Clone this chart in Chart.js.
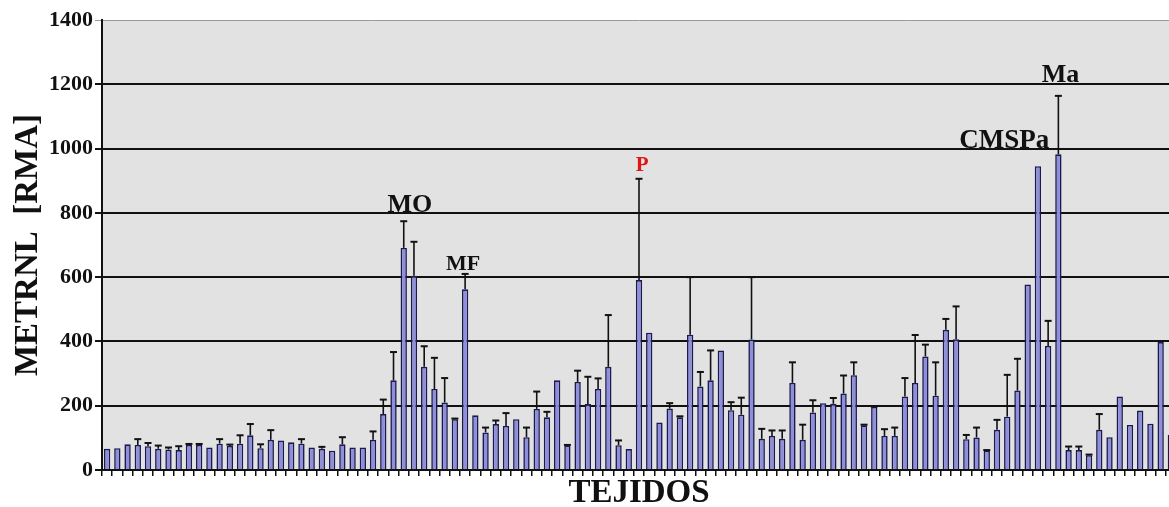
<!DOCTYPE html>
<html>
<head>
<meta charset="utf-8">
<title>METRNL</title>
<script src="https://cdn.jsdelivr.net/npm/chart.js@4.4.1/dist/chart.umd.min.js"></script>
<style>
  html, body { margin: 0; padding: 0; background: #fff; overflow: hidden; }
  #wrap { width: 1180px; height: 507px; }
</style>
</head>
<body>
<div id="wrap"><canvas id="bar-chart" width="1180" height="507"></canvas></div>
<script>
// Mean expression per tissue
let valores = [
  66, 68, 80, 78, 74, 66, 64, 62, 78, 78, 70, 82, 75, 82, 108, 68, 94, 92, 86, 82,
  70, 66, 60, 80, 70, 70, 94, 174, 279, 691, 604, 321, 252, 210, 158, 562, 170, 117, 143, 137,
  158, 102, 190, 164, 279, 76, 274, 205, 252, 321, 77, 65, 591, 427, 148, 191, 164, 421, 260, 279,
  372, 186, 172, 406, 97, 106, 97, 271, 94, 179, 208, 206, 238, 295, 139, 196, 106, 106, 229, 271,
  353, 231, 436, 407, 96, 101, 60, 125, 166, 247, 577, 945, 386, 982, 62, 62, 46, 125, 102, 229,
  140, 185, 144, 398, 110
];
// Upper error (SD) per tissue, 0 where none is drawn
let errores = [
  0, 0, 0, 18, 10, 10, 6, 12, 3, 3, 0, 14, 4, 26, 35, 12, 30, 0, 0, 14,
  0, 6, 0, 22, 0, 0, 26, 45, 88, 83, 106, 64, 97, 76, 2, 48, 0, 15, 11, 40,
  0, 30, 54, 17, 0, 2, 35, 85, 33, 161, 15, 0, 315, 0, 0, 17, 3, 179, 45, 93,
  0, 25, 53, 194, 31, 17, 26, 64, 47, 38, 0, 18, 56, 40, 2, 2, 21, 26, 57, 149,
  37, 104, 34, 102, 13, 31, 2, 31, 130, 99, 0, 0, 78, 182, 11, 11, 2, 49, 0, 0,
  0, 0, 0, 0, 0
];
let tejidos = valores.map((v, i) => 'T' + (i + 1));

let yTicks = [0, 200, 400, 600, 800, 1000, 1200, 1400];

// Tissue names written above some bars: category position and value of the baseline
let etiquetas = ['MO', 'MF', 'P', 'CMSPa', 'Ma'];
let etiquetaPos = [29.6, 34.8, 52.3, 87.7, 93.2];
let etiquetaY = [803, 622, 930, 1002, 1207];
let etiquetaSize = [26, 22, 21, 27, 26];
let etiquetaColor = ['#111', '#111', '#e01515', '#111', '#111'];

const serif = "'Liberation Serif', 'Times New Roman', serif";

const plotBackground = {
  id: 'plotBackground',
  beforeDraw(chart) {
    const { ctx, chartArea } = chart;
    ctx.save();
    ctx.fillStyle = '#e2e2e2';
    ctx.fillRect(chartArea.left, chartArea.top, chartArea.right - chartArea.left, chartArea.bottom - chartArea.top);
    ctx.restore();
  }
};

const errorBars = {
  id: 'errorBars',
  afterDatasetsDraw(chart) {
    const ctx = chart.ctx;
    const yScale = chart.scales.y;
    const bars = chart.getDatasetMeta(0).data;
    ctx.save();
    ctx.strokeStyle = '#111';
    bars.forEach((bar, i) => {
      if (!errores[i]) return;
      let top = yScale.getPixelForValue(valores[i] + errores[i]);
      ctx.lineWidth = 1.6;
      ctx.beginPath();
      ctx.moveTo(bar.x, bar.y);
      ctx.lineTo(bar.x, top);
      ctx.stroke();
      ctx.lineWidth = 2;
      ctx.beginPath();
      ctx.moveTo(bar.x - 3.5, top);
      ctx.lineTo(bar.x + 3.5, top);
      ctx.stroke();
    });
    ctx.restore();
  }
};

const tissueLabels = {
  id: 'tissueLabels',
  afterDraw(chart) {
    const ctx = chart.ctx;
    const xScale = chart.scales.x;
    const yScale = chart.scales.y;
    ctx.save();
    ctx.textAlign = 'center';
    ctx.textBaseline = 'alphabetic';
    for (let i = 0; i < etiquetas.length; i++) {
      let base = Math.floor(etiquetaPos[i]);
      let x0 = xScale.getPixelForValue(base);
      let x1 = xScale.getPixelForValue(base + 1);
      let x = x0 + (x1 - x0) * (etiquetaPos[i] - base);
      ctx.font = 'bold ' + etiquetaSize[i] + 'px ' + serif;
      ctx.fillStyle = etiquetaColor[i];
      ctx.fillText(etiquetas[i], x, yScale.getPixelForValue(etiquetaY[i]));
    }
    ctx.restore();
  }
};

const ctx = document.getElementById('bar-chart').getContext('2d');
let barChart = new Chart(ctx, {
  type: 'bar',
  data: {
    labels: tejidos,
    datasets: [{
      data: valores,
      backgroundColor: '#8e8edc',
      borderColor: '#1a1a4c',
      borderWidth: 1.6,
      barPercentage: 0.62,
      categoryPercentage: 1
    }]
  },
  options: {
    responsive: false,
    animation: false,
    layout: { padding: { top: 20, right: 4, left: 0, bottom: 0 } },
    plugins: {
      legend: { display: false },
      tooltip: { enabled: false }
    },
    scales: {
      x: {
        afterFit(scale) { scale.height = 37; },
        grid: { drawOnChartArea: false, drawTicks: true, tickLength: 6, color: '#111', lineWidth: 1.5 },
        border: { color: '#111', width: 2 },
        ticks: { display: false },
        title: {
          display: true,
          text: 'TEJIDOS',
          color: '#111',
          font: { family: serif, size: 33, weight: 'bold', lineHeight: 1 },
          padding: { top: 0, bottom: -3 }
        }
      },
      y: {
        min: 0,
        max: 1400,
        afterFit(scale) { scale.width = 102; },
        afterBuildTicks(scale) { scale.ticks = yTicks.map(v => ({ value: v })); },
        grid: {
          color: ctx => ctx.tick && ctx.tick.value === 1400 ? '#9a9a9a' : '#111',
          lineWidth: ctx => ctx.tick && ctx.tick.value === 1400 ? 1 : 2,
          tickLength: 7
        },
        border: { color: '#111', width: 2 },
        ticks: {
          color: '#111',
          padding: 2,
          font: { family: serif, size: 22, weight: 'bold' },
          callback: value => String(value)
        },
        title: {
          display: true,
          text: 'METRNL  [RMA]',
          color: '#111',
          font: { family: serif, size: 33, weight: 'bold', lineHeight: 1 },
          padding: { top: 12, bottom: 0 }
        }
      }
    }
  },
  plugins: [plotBackground, errorBars, tissueLabels]
});
</script>
</body>
</html>
